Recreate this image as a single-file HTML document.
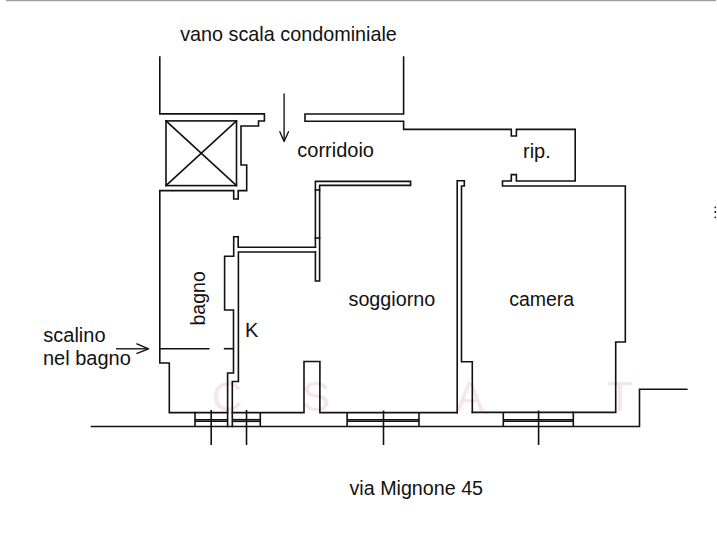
<!DOCTYPE html>
<html><head><meta charset="utf-8">
<style>
html,body{margin:0;padding:0;background:#fff;}
body{width:717px;height:545px;overflow:hidden;position:relative;}
svg{position:absolute;left:0;top:0;}
text{font-family:"Liberation Sans",sans-serif;font-size:20px;fill:#111;}
.wm{font-size:42px;fill:#f6e6e6;}
</style></head><body>
<svg width="717" height="545" viewBox="0 0 717 545">
<rect x="6" y="0" width="710" height="1.2" fill="#9c9c9c"/>
<rect x="714.5" y="206.6" width="1.6" height="1.6" fill="#222"/><rect x="714.5" y="211" width="1.6" height="2" fill="#222"/><rect x="714.5" y="216.6" width="1.6" height="1.6" fill="#222"/>
<!-- faint watermark -->
<g class="wmg">
<text class="wm" x="212" y="411">C</text>
<text class="wm" x="302" y="411">S</text>
<text class="wm" x="456" y="411">A</text>
<text class="wm" x="607" y="411">T</text>
</g>
<g fill="none" stroke="#111" stroke-width="1.6" stroke-linejoin="miter" stroke-linecap="square">
<!-- left stair wall + bagno outer -->
<polyline points="159.8,57 159.8,113.9 264.4,113.9 264.4,121 258.5,121 258.5,126 241,126 241,165 246.7,165 246.7,190.6 238.2,190.6 238.2,199 233.7,199 233.7,190.6 159.8,190.6 159.8,363 169.3,363 169.3,412.6 195,412.6"/>
<!-- elevator box -->
<rect x="166" y="120.9" width="70.5" height="64.7"/>
<line x1="166" y1="120.9" x2="236.5" y2="185.6"/>
<line x1="236.5" y1="120.9" x2="166" y2="185.6"/>
<!-- right stair / rip / camera -->
<polyline points="403.6,57 403.6,114 305,114 305,121.2 403.6,121.2 403.6,129.4 511.3,129.4 511.3,136 516.4,136 516.4,129.4 575.2,129.4 575.2,181 516.4,181 516.4,174.6 511.3,174.6 511.3,181 502.5,181 502.5,186 625.3,186 625.3,342 615.7,342 615.7,412.4 573.3,412.4"/>
<!-- L wall soggiorno top -->
<polyline points="315.4,247.2 315.4,181.4 410.6,181.4 410.6,185.4 319.6,185.4 319.6,281 315.4,281 315.4,252"/>
<line x1="315.4" y1="190" x2="319.6" y2="190"/>
<line x1="315.4" y1="238" x2="319.6" y2="238"/>
<!-- K wall -->
<polyline points="238.2,236.7 233.7,236.7 233.7,256.3 224.6,256.3 224.6,310 233.5,310 233.5,373 227.6,373 227.6,426.5"/>
<polyline points="238.2,236.7 238.2,247.2 315.4,247.2"/>
<polyline points="315.4,252 238.4,252 238.4,381.5 232.3,381.5 232.3,426.5"/>
<!-- soggiorno/camera wall -->
<polyline points="457.2,412.4 457.2,180.8 464.3,180.8 464.3,186 461.5,186 461.5,361.7 472.3,361.7 472.3,412.4"/>
<!-- pier -->
<polyline points="232.3,412.6 304,412.6 304,361.5 319.9,361.5 319.9,412.6 457.2,412.6"/>
<line x1="472.3" y1="412.4" x2="573.3" y2="412.4"/>
<line x1="195" y1="412.6" x2="227.6" y2="412.6"/>
<!-- outer bottom -->
<polyline points="91.5,426.5 639.5,426.5 639.5,389.3 686.8,389.3"/>
</g>
<g fill="none" stroke="#111" stroke-width="1.6" stroke-linecap="butt">
<!-- windows -->
<line x1="195" y1="412" x2="195" y2="427"/>
<line x1="260.3" y1="412" x2="260.3" y2="427"/>
<line x1="195" y1="419.7" x2="227.6" y2="419.7"/>
<line x1="195" y1="421.3" x2="227.6" y2="421.3"/>
<line x1="232.3" y1="419.7" x2="260.3" y2="419.7"/>
<line x1="232.3" y1="421.3" x2="260.3" y2="421.3"/>
<line x1="347.1" y1="412" x2="347.1" y2="427"/>
<line x1="419" y1="412" x2="419" y2="427"/>
<line x1="347.1" y1="419.7" x2="419" y2="419.7"/>
<line x1="347.1" y1="421.3" x2="419" y2="421.3"/>
<line x1="503.3" y1="412" x2="503.3" y2="427"/>
<line x1="573.3" y1="412" x2="573.3" y2="427"/>
<line x1="503.3" y1="419.7" x2="573.3" y2="419.7"/>
<line x1="503.3" y1="421.3" x2="573.3" y2="421.3"/>
<!-- ticks -->
<line x1="211.2" y1="410" x2="211.2" y2="445"/>
<line x1="246.5" y1="410" x2="246.5" y2="445"/>
<line x1="383.5" y1="410.5" x2="383.5" y2="445"/>
<line x1="538.6" y1="410.5" x2="538.6" y2="445"/>
<!-- dashed step -->
<line x1="159.8" y1="348.7" x2="209.5" y2="348.7"/>
<line x1="223.8" y1="348.7" x2="233.5" y2="348.7"/>
</g>
<g fill="none" stroke="#111" stroke-width="1.35" stroke-linecap="butt" stroke-linejoin="round">
<!-- arrows -->
<line x1="284.1" y1="93.5" x2="284.1" y2="141"/>
<polyline points="279.6,131.2 284.1,141.6 288.7,131.2"/>
<line x1="116" y1="348.8" x2="148" y2="348.8"/>
<polyline points="136.4,343.6 148.6,348.8 136.4,353.6"/>
</g>
<text x="180.2" y="40.6" style="font-size:19.8px">vano scala condominiale</text>
<text x="297.3" y="157.3">corridoio</text>
<text x="523" y="157.6">rip.</text>
<text x="348.5" y="305.5" style="font-size:19.75px">soggiorno</text>
<text x="509.2" y="305.7" style="font-size:19.5px">camera</text>
<text x="245" y="337.2">K</text>
<text x="43.3" y="341.5">scalino</text>
<text x="43" y="364.5">nel bagno</text>
<text x="349.5" y="495.3" style="font-size:19.7px">via Mignone 45</text>
<text transform="translate(204.7,325.6) rotate(-90)" x="0" y="0" style="font-size:19.6px">bagno</text>
</svg>
</body></html>
